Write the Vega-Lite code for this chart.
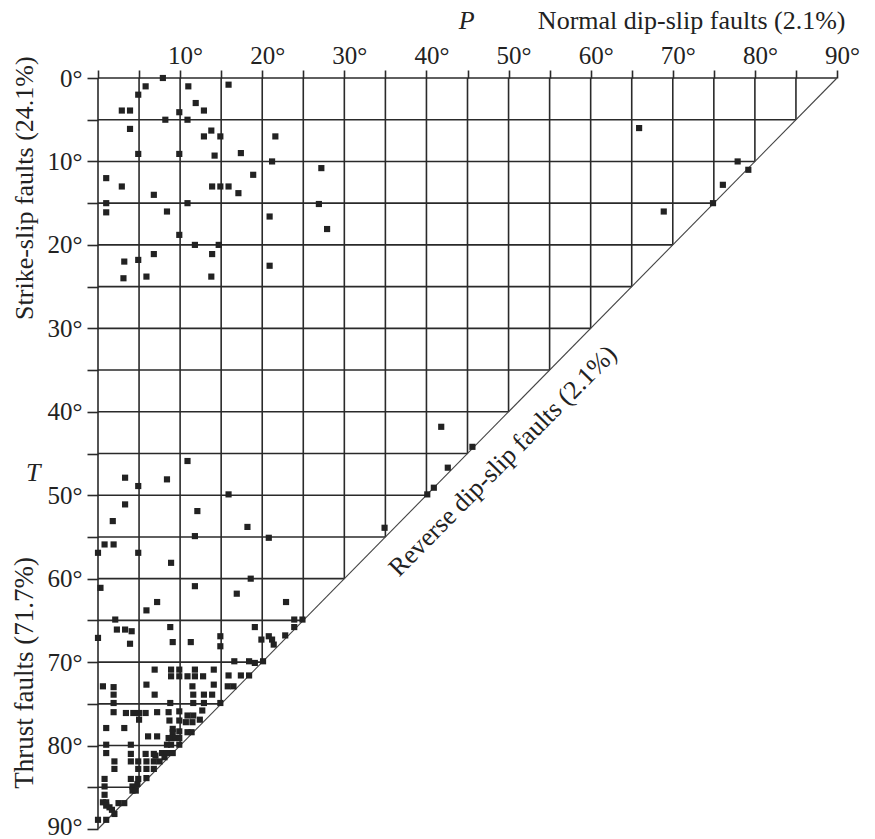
{
  "$schema": "https://vega.github.io/schema/vega-lite/v6.json",
  "autosize": "none",
  "width": 739,
  "height": 751,
  "padding": {"left": 98, "top": 78, "right": 38, "bottom": 10},
  "background": "white",
  "config": {"view": {"stroke": null}},
  "datasets": {
    "one": [{"k": 1}],
    "vg": [
      {"p": 0, "t0": 0, "t1": 90}, {"p": 5, "t0": 0, "t1": 85}, {"p": 10, "t0": 0, "t1": 80}, {"p": 15, "t0": 0, "t1": 75},
      {"p": 20, "t0": 0, "t1": 70}, {"p": 25, "t0": 0, "t1": 65}, {"p": 30, "t0": 0, "t1": 60}, {"p": 35, "t0": 0, "t1": 55},
      {"p": 40, "t0": 0, "t1": 50}, {"p": 45, "t0": 0, "t1": 45}, {"p": 50, "t0": 0, "t1": 40}, {"p": 55, "t0": 0, "t1": 35},
      {"p": 60, "t0": 0, "t1": 30}, {"p": 65, "t0": 0, "t1": 25}, {"p": 70, "t0": 0, "t1": 20}, {"p": 75, "t0": 0, "t1": 15},
      {"p": 80, "t0": 0, "t1": 10}, {"p": 85, "t0": 0, "t1": 5}
    ],
    "hg": [
      {"t": 0, "p0": 0, "p1": 90}, {"t": 5, "p0": 0, "p1": 85}, {"t": 10, "p0": 0, "p1": 80}, {"t": 15, "p0": 0, "p1": 75},
      {"t": 20, "p0": 0, "p1": 70}, {"t": 25, "p0": 0, "p1": 65}, {"t": 30, "p0": 0, "p1": 60}, {"t": 35, "p0": 0, "p1": 55},
      {"t": 40, "p0": 0, "p1": 50}, {"t": 45, "p0": 0, "p1": 45}, {"t": 50, "p0": 0, "p1": 40}, {"t": 55, "p0": 0, "p1": 35},
      {"t": 60, "p0": 0, "p1": 30}, {"t": 65, "p0": 0, "p1": 25}, {"t": 70, "p0": 0, "p1": 20}, {"t": 75, "p0": 0, "p1": 15},
      {"t": 80, "p0": 0, "p1": 10}, {"t": 85, "p0": 0, "p1": 5}
    ],
    "pts": [
      {"p": 7.9, "t": 0}, {"p": 5.8, "t": 1.0}, {"p": 11.0, "t": 1.0}, {"p": 15.9, "t": 0.8}, {"p": 4.9, "t": 2.0},
      {"p": 11.9, "t": 3.0}, {"p": 2.9, "t": 3.9}, {"p": 3.9, "t": 3.9}, {"p": 12.9, "t": 3.9}, {"p": 9.9, "t": 4.1},
      {"p": 8.2, "t": 5.0}, {"p": 10.9, "t": 5.0}, {"p": 3.9, "t": 6.1}, {"p": 13.8, "t": 6.3}, {"p": 12.9, "t": 7.0},
      {"p": 14.9, "t": 7.0}, {"p": 21.6, "t": 7.0}, {"p": 4.9, "t": 9.1}, {"p": 9.9, "t": 9.1}, {"p": 14.2, "t": 9.3},
      {"p": 17.4, "t": 9.0}, {"p": 21.2, "t": 10.0}, {"p": 27.2, "t": 10.8}, {"p": 1.0, "t": 12.0}, {"p": 18.9, "t": 11.6},
      {"p": 2.9, "t": 13.0}, {"p": 13.9, "t": 13.0}, {"p": 14.9, "t": 13.0}, {"p": 15.9, "t": 13.0}, {"p": 17.1, "t": 13.8},
      {"p": 6.8, "t": 14.0}, {"p": 1.0, "t": 15.0}, {"p": 10.9, "t": 15.0}, {"p": 26.9, "t": 15.1}, {"p": 1.0, "t": 16.1},
      {"p": 8.4, "t": 16.0}, {"p": 20.9, "t": 16.6}, {"p": 27.9, "t": 18.1}, {"p": 9.9, "t": 18.8}, {"p": 11.8, "t": 20.0},
      {"p": 14.7, "t": 20.0}, {"p": 13.9, "t": 21.1}, {"p": 3.2, "t": 22.0}, {"p": 4.9, "t": 21.8}, {"p": 6.8, "t": 21.1},
      {"p": 20.9, "t": 22.5}, {"p": 3.1, "t": 24.0}, {"p": 5.9, "t": 23.8}, {"p": 13.8, "t": 23.8},
      {"p": 65.9, "t": 6.0}, {"p": 77.9, "t": 10.0}, {"p": 79.2, "t": 11.0}, {"p": 76.1, "t": 12.8}, {"p": 74.9, "t": 15.0}, {"p": 68.9, "t": 16.0},
      {"p": 41.8, "t": 41.8}, {"p": 45.6, "t": 44.2}, {"p": 42.6, "t": 46.7}, {"p": 40.9, "t": 49.1}, {"p": 40.1, "t": 49.9}, {"p": 34.9, "t": 53.9},
      {"p": 10.9, "t": 45.9}, {"p": 3.3, "t": 47.9}, {"p": 8.4, "t": 48.1}, {"p": 4.9, "t": 48.9}, {"p": 15.9, "t": 49.9},
      {"p": 3.3, "t": 51.1}, {"p": 12.1, "t": 51.9}, {"p": 1.8, "t": 53.1}, {"p": 18.2, "t": 53.8}, {"p": 11.8, "t": 54.9},
      {"p": 20.8, "t": 55.1}, {"p": 0.8, "t": 55.9}, {"p": 1.9, "t": 55.9}, {"p": 0, "t": 56.9}, {"p": 4.9, "t": 56.9},
      {"p": 8.9, "t": 58.1}, {"p": 0.3, "t": 61.1}, {"p": 11.8, "t": 60.9}, {"p": 18.6, "t": 60.0}, {"p": 16.9, "t": 61.8},
      {"p": 7.2, "t": 62.8}, {"p": 22.9, "t": 62.8}, {"p": 5.9, "t": 63.8}, {"p": 2.1, "t": 64.9}, {"p": 2.3, "t": 66.1},
      {"p": 3.3, "t": 66.1}, {"p": 4.1, "t": 66.3}, {"p": 8.8, "t": 65.8}, {"p": 23.9, "t": 64.9}, {"p": 24.9, "t": 64.9},
      {"p": 23.9, "t": 65.8}, {"p": 19.1, "t": 65.8}, {"p": 22.8, "t": 66.8}, {"p": 0, "t": 67.1}, {"p": 3.9, "t": 67.8},
      {"p": 9.1, "t": 67.6}, {"p": 11.3, "t": 67.6}, {"p": 14.9, "t": 66.9}, {"p": 14.9, "t": 68.1}, {"p": 19.9, "t": 67.3},
      {"p": 20.8, "t": 66.9}, {"p": 21.2, "t": 67.3}, {"p": 21.4, "t": 67.9}, {"p": 16.6, "t": 69.9}, {"p": 18.4, "t": 69.9},
      {"p": 19.1, "t": 70.1}, {"p": 20.1, "t": 69.9},
      {"p": 6.9, "t": 70.9}, {"p": 8.9, "t": 70.9}, {"p": 9.9, "t": 70.9}, {"p": 11.8, "t": 70.9}, {"p": 14.1, "t": 70.9},
      {"p": 8.9, "t": 71.7}, {"p": 9.9, "t": 71.7}, {"p": 10.9, "t": 71.7}, {"p": 11.8, "t": 71.7}, {"p": 12.8, "t": 71.7},
      {"p": 15.9, "t": 71.6}, {"p": 17.4, "t": 71.6}, {"p": 18.4, "t": 71.6},
      {"p": 0.6, "t": 72.9}, {"p": 1.9, "t": 73.0}, {"p": 5.9, "t": 72.7}, {"p": 11.5, "t": 72.9}, {"p": 14.1, "t": 72.7},
      {"p": 15.8, "t": 72.9}, {"p": 16.5, "t": 72.9},
      {"p": 1.9, "t": 73.9}, {"p": 6.9, "t": 73.9}, {"p": 11.6, "t": 73.9}, {"p": 12.9, "t": 73.9}, {"p": 13.9, "t": 73.9},
      {"p": 1.9, "t": 74.9}, {"p": 8.8, "t": 74.9}, {"p": 11.6, "t": 74.9}, {"p": 12.9, "t": 74.9}, {"p": 14.9, "t": 74.9},
      {"p": 1.9, "t": 76.0}, {"p": 3.4, "t": 76.1}, {"p": 4.3, "t": 76.1}, {"p": 5.0, "t": 76.1}, {"p": 5.8, "t": 76.1},
      {"p": 7.2, "t": 76.0}, {"p": 8.6, "t": 76.0}, {"p": 9.9, "t": 75.9}, {"p": 10.9, "t": 76.4}, {"p": 11.6, "t": 76.4}, {"p": 12.7, "t": 75.8},
      {"p": 5.0, "t": 76.9}, {"p": 8.7, "t": 77.0}, {"p": 9.9, "t": 77.0}, {"p": 10.7, "t": 77.2}, {"p": 11.5, "t": 77.2}, {"p": 12.4, "t": 76.9},
      {"p": 1.0, "t": 77.9}, {"p": 3.2, "t": 77.9}, {"p": 9.1, "t": 78.0}, {"p": 9.1, "t": 78.4}, {"p": 9.9, "t": 78.3},
      {"p": 10.9, "t": 78.4}, {"p": 11.4, "t": 78.4},
      {"p": 6.1, "t": 78.9}, {"p": 7.2, "t": 78.9}, {"p": 8.6, "t": 79.1}, {"p": 9.0, "t": 79.1}, {"p": 9.4, "t": 79.1}, {"p": 9.9, "t": 79.1},
      {"p": 1.0, "t": 79.9}, {"p": 4.0, "t": 79.9}, {"p": 8.4, "t": 79.9}, {"p": 8.9, "t": 79.9}, {"p": 9.9, "t": 79.9},
      {"p": 1.0, "t": 80.9}, {"p": 4.0, "t": 81.0}, {"p": 5.8, "t": 81.0}, {"p": 6.8, "t": 81.0}, {"p": 7.8, "t": 80.9},
      {"p": 8.4, "t": 80.9}, {"p": 9.1, "t": 80.9}, {"p": 7.0, "t": 81.2}, {"p": 8.1, "t": 81.4},
      {"p": 2.0, "t": 81.9}, {"p": 4.0, "t": 81.9}, {"p": 4.9, "t": 81.9}, {"p": 5.9, "t": 81.9}, {"p": 6.8, "t": 81.9}, {"p": 7.5, "t": 81.9},
      {"p": 2.0, "t": 82.8}, {"p": 4.9, "t": 82.8}, {"p": 5.9, "t": 82.8}, {"p": 6.8, "t": 82.8},
      {"p": 0.8, "t": 84.0}, {"p": 4.0, "t": 84.0}, {"p": 4.9, "t": 84.0}, {"p": 5.9, "t": 83.9},
      {"p": 0.8, "t": 84.9}, {"p": 4.2, "t": 84.9}, {"p": 4.8, "t": 84.6}, {"p": 4.2, "t": 85.4}, {"p": 4.6, "t": 85.4},
      {"p": 0.8, "t": 85.9}, {"p": 0.6, "t": 86.8}, {"p": 1.0, "t": 86.8}, {"p": 1.0, "t": 87.2}, {"p": 1.4, "t": 87.4},
      {"p": 1.7, "t": 87.7}, {"p": 2.5, "t": 86.9}, {"p": 3.2, "t": 86.9}, {"p": 2.0, "t": 88.2}, {"p": 0, "t": 88.9}, {"p": 1.0, "t": 88.9}
    ]
  },
  "layer": [
    {
      "data": {"name": "vg"},
      "mark": {"type": "rule", "stroke": "#2a2a2a", "strokeWidth": 1.6},
      "encoding": {
        "x": {"field": "p", "type": "quantitative", "scale": {"domain": [0, 90], "nice": false, "zero": false},
          "axis": {"orient": "top", "title": null, "domain": false, "grid": false,
            "values": [0, 5, 10, 15, 20, 25, 30, 35, 40, 45, 50, 55, 60, 65, 70, 75, 80, 85, 90],
            "labelExpr": "datum.value % 10 == 0 && datum.value > 0 ? datum.value + '°' : ''",
            "tickSize": 8, "tickWidth": 1.6, "tickColor": "#2a2a2a",
            "labelFont": "Liberation Serif", "labelFontSize": 25, "labelColor": "#222222",
            "labelBaseline": "alphabetic", "labelPadding": 7, "labelOffset": 5, "labelOverlap": false, "labelFlush": false}},
        "y": {"field": "t0", "type": "quantitative", "scale": {"domain": [0, 90], "nice": false, "zero": false, "reverse": true},
          "axis": {"orient": "left", "title": null, "domain": false, "grid": false,
            "values": [0, 5, 10, 15, 20, 25, 30, 35, 40, 45, 50, 55, 60, 65, 70, 75, 80, 85, 90],
            "labelExpr": "datum.value % 10 == 0 ? datum.value + '°' : ''",
            "labelOffset": {"condition": {"test": "datum.value == 90", "value": -3}, "value": 0},
            "tickSize": 11, "tickWidth": 1.6, "tickColor": "#2a2a2a",
            "labelFont": "Liberation Serif", "labelFontSize": 25, "labelColor": "#222222",
            "labelPadding": 5, "labelOverlap": false, "labelFlush": false}},
        "y2": {"field": "t1"}
      }
    },
    {
      "data": {"name": "hg"},
      "mark": {"type": "rule", "stroke": "#2a2a2a", "strokeWidth": 1.6},
      "encoding": {
        "y": {"field": "t", "type": "quantitative"},
        "x": {"field": "p0", "type": "quantitative"},
        "x2": {"field": "p1"}
      }
    },
    {
      "data": {"name": "one"},
      "mark": {"type": "rule", "stroke": "#444444", "strokeWidth": 1.1},
      "encoding": {
        "x": {"datum": 90, "type": "quantitative"},
        "y": {"datum": 0, "type": "quantitative"},
        "x2": {"datum": 0},
        "y2": {"datum": 90}
      }
    },
    {
      "data": {"name": "pts"},
      "mark": {"type": "square", "size": 38, "color": "#222222", "opacity": 1},
      "encoding": {
        "x": {"field": "p", "type": "quantitative"},
        "y": {"field": "t", "type": "quantitative"}
      }
    },
    {
      "data": {"name": "one"},
      "mark": {"type": "text", "text": "P", "font": "Liberation Serif", "fontSize": 26, "fontStyle": "italic", "color": "#222222", "baseline": "middle", "align": "center"},
      "encoding": {"x": {"datum": 44.9, "type": "quantitative"}, "y": {"datum": -6.8, "type": "quantitative"}}
    },
    {
      "data": {"name": "one"},
      "mark": {"type": "text", "text": "Normal dip-slip faults (2.1%)", "font": "Liberation Serif", "fontSize": 26, "color": "#222222", "baseline": "middle", "align": "center"},
      "encoding": {"x": {"datum": 72.3, "type": "quantitative"}, "y": {"datum": -6.8, "type": "quantitative"}}
    },
    {
      "data": {"name": "one"},
      "mark": {"type": "text", "text": "T", "font": "Liberation Serif", "fontSize": 26, "fontStyle": "italic", "color": "#222222", "baseline": "middle", "align": "center"},
      "encoding": {"x": {"datum": -7.9, "type": "quantitative"}, "y": {"datum": 47.3, "type": "quantitative"}}
    },
    {
      "data": {"name": "one"},
      "mark": {"type": "text", "text": "Strike-slip faults (24.1%)", "font": "Liberation Serif", "fontSize": 26, "angle": -90, "color": "#222222", "baseline": "middle", "align": "center"},
      "encoding": {"x": {"datum": -8.9, "type": "quantitative"}, "y": {"datum": 13.2, "type": "quantitative"}}
    },
    {
      "data": {"name": "one"},
      "mark": {"type": "text", "text": "Thrust faults (71.7%)", "font": "Liberation Serif", "fontSize": 27, "angle": -90, "color": "#222222", "baseline": "middle", "align": "center"},
      "encoding": {"x": {"datum": -8.9, "type": "quantitative"}, "y": {"datum": 71.3, "type": "quantitative"}}
    },
    {
      "data": {"name": "one"},
      "mark": {"type": "text", "text": "Reverse dip-slip faults (2.1%)", "font": "Liberation Serif", "fontSize": 26, "angle": -45.4, "color": "#222222", "baseline": "middle", "align": "center"},
      "encoding": {"x": {"datum": 49.3, "type": "quantitative"}, "y": {"datum": 45.9, "type": "quantitative"}}
    }
  ]
}
